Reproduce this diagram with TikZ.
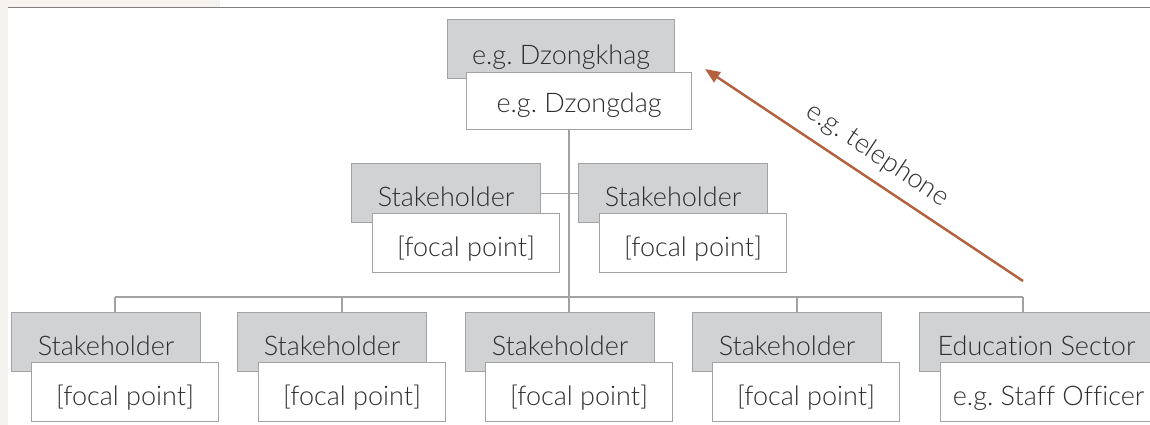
\documentclass[tikz,border=0pt]{standalone}
\usepackage{fontspec}
\setmainfont{Lato}[UprightFont={* Light}, Ligatures=NoCommon]
\usetikzlibrary{arrows.meta,calc}
\definecolor{beige}{HTML}{F6F3EE}
\definecolor{boxgray}{HTML}{D1D2D4}
\definecolor{edgegray}{HTML}{A3A2A3}
\definecolor{rulegray}{HTML}{808080}
\definecolor{txt}{HTML}{2E2E2E}
\definecolor{rust}{HTML}{B5613E}
\frenchspacing
\tikzset{
  basebox/.style={draw=edgegray, line width=1.1pt, inner sep=0pt, anchor=north west,
    text=txt, font=\fontsize{27}{30}\selectfont, text height=26pt, text depth=0pt,
    minimum height=59pt},
  graybox/.style={basebox, fill=boxgray, minimum width=189pt},
  whitebox/.style={basebox, fill=white, minimum width=187pt},
  link/.style={draw=edgegray, line width=1.1pt},
  callarrow/.style={draw=rust, line width=2.4pt, -{Triangle[length=15pt,width=12pt]}},
  calllabel/.style={text=txt, font=\fontsize{27}{30}\selectfont, inner sep=0pt},
}
\begin{document}
\begin{tikzpicture}[x=1pt, y=-1pt]
\clip (0,0) rectangle (1150,425);
\fill[white] (0,0) rectangle (1150,425);
\fill[beige] (0,0) rectangle (8,425);
\fill[beige] (0,0) rectangle (220,7);
\draw[rulegray, line width=1.8pt] (8,7.5) -- (1150,7.5);

% top
\node[graybox, minimum width=227pt, text height=31pt] (g0) at (447,19) {e.g. Dzongkhag};
\node[whitebox, minimum width=225pt, minimum height=57pt, text height=23pt] (w0) at (466,72) {e.g. Dzongdag};

% middle
\node[graybox] (g1) at (351,163) {Stakeholder};
\node[whitebox] (w1) at (372,213) {[focal point]};
\node[graybox] (g2) at (578,163) {Stakeholder};
\node[whitebox] (w2) at (599,213) {[focal point]};

% bottom
\coordinate (c1) at (115,297);
\coordinate (c2) at (342,297);
\coordinate (c3) at (569,297);
\coordinate (c4) at (797,297);
\coordinate (c5) at (1023,297);

\draw[link] (c3 |- w0.south) -- (c3);
\draw[link] (g1.east) -- (g2.west);
\draw[link] (c1) -- (c5);

\node[graybox] (b1) at (11,312) {Stakeholder};
\node[whitebox] (v1) at (31,362) {[focal point]};
\node[graybox] (b2) at (237,312) {Stakeholder};
\node[whitebox] (v2) at (258,362) {[focal point]};
\node[graybox] (b3) at (465,312) {Stakeholder};
\node[whitebox] (v3) at (485,362) {[focal point]};
\node[graybox] (b4) at (692,312) {Stakeholder};
\node[whitebox] (v4) at (712,362) {[focal point]};
\node[graybox, minimum width=234pt] (b5) at (919,312) {Education Sector};
\node[whitebox, minimum width=216pt] (v5) at (940,362) {e.g. Staff Officer};

\foreach \i in {1,...,5}{
  \draw[link] (c\i) -- (c\i |- b\i.north);
}

% arrow
\coordinate (as) at (1023,281);
\coordinate (at) at (705,69);
\draw[callarrow] (as) -- (at);
\coordinate (am) at ($(as)!0.5!(at)$);
\node[calllabel, rotate=-33.7] (lbl) at ($(am)!24pt!-90:(at)$) {e.g. telephone};
\end{tikzpicture}
\end{document}
